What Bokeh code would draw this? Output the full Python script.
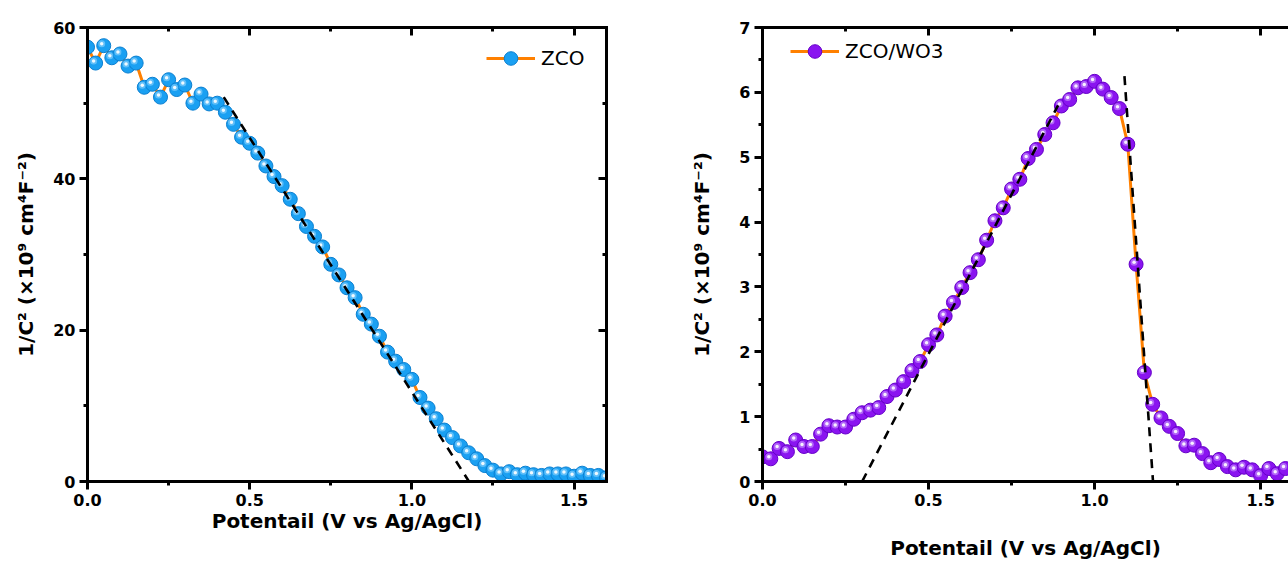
from bokeh.plotting import figure
from bokeh.layouts import row
from bokeh.models import (Range1d, LinearAxis, FixedTicker, PrintfTickFormatter,
                          Legend, LegendItem, CustomLabelingPolicy)
from bokeh.embed import file_html
from bokeh.resources import INLINE

# ---------------- data ----------------
zco_x = [round(i * 0.025, 3) for i in range(65)]
zco_y = [57.4, 55.3, 57.6, 56.0, 56.5, 54.9, 55.3, 52.1, 52.5, 50.8,
         53.1, 51.8, 52.4, 50.0, 51.2, 49.9, 50.0, 48.8, 47.2, 45.5,
         44.7, 43.4, 41.7, 40.3, 39.1, 37.3, 35.4, 33.7, 32.4, 31.0,
         28.7, 27.3, 25.6, 24.3, 22.1, 20.8, 19.2, 17.1, 15.9, 14.8,
         13.5, 11.1, 9.7, 8.3, 6.8, 5.8, 4.7, 3.8, 3.0, 2.1,
         1.5, 1.0, 1.3, 0.9, 1.1, 0.9, 0.8, 1.0, 1.0, 1.0,
         0.7, 1.1, 0.8, 0.8, 0.5]
zco_fit_x = [0.42, 1.176]
zco_fit_y = [50.8, 0.0]

wo3_x = [round(i * 0.025, 3) for i in range(64)]
wo3_y = [0.38, 0.35, 0.51, 0.46, 0.64, 0.54, 0.54, 0.73, 0.86, 0.84,
         0.84, 0.96, 1.06, 1.10, 1.14, 1.31, 1.41, 1.54, 1.71, 1.85,
         2.11, 2.26, 2.55, 2.76, 2.99, 3.22, 3.42, 3.72, 4.02, 4.22,
         4.51, 4.66, 4.98, 5.12, 5.35, 5.53, 5.79, 5.89, 6.07, 6.09,
         6.17, 6.05, 5.92, 5.75, 5.20, 3.35, 1.68, 1.19, 0.98, 0.85,
         0.74, 0.55, 0.56, 0.43, 0.29, 0.34, 0.23, 0.18, 0.22, 0.18,
         0.09, 0.20, 0.12, 0.20]
wo3_fit1_x = [0.30, 0.89]
wo3_fit1_y = [0.0, 5.8]
wo3_fit2_x = [1.09, 1.176]
wo3_fit2_y = [6.25, 0.0]

x_ticks = [0.0, 0.5, 1.0, 1.5]
x_minor = [0.25, 0.75, 1.25]
zco_yticks = [0, 20, 40, 60]
zco_yminor = [10, 30, 50]
wo3_yticks = [0, 1, 2, 3, 4, 5, 6, 7]
wo3_yminor = [0.5, 1.5, 2.5, 3.5, 4.5, 5.5, 6.5]

XLABEL = "Potentail (V vs Ag/AgCl)"
YLABEL = "1/C\u00b2 (\u00d710\u2079 cm\u2074F\u207b\u00b2)"

ORANGE = "#FF8000"
FONT = "DejaVu Sans"

NO_LABELS = CustomLabelingPolicy(
    code="for (const i of Array.from(indices)) indices.unset(i); return indices")


def style_axis(ax, ticks, minor, fmt=None, inward=False, labels=True):
    ax.ticker = FixedTicker(ticks=ticks, minor_ticks=minor)
    if fmt:
        ax.formatter = PrintfTickFormatter(format=fmt)
    ax.axis_line_width = 3
    ax.axis_line_color = "black"
    ax.axis_line_cap = "square"
    ax.major_tick_line_width = 3
    ax.minor_tick_line_width = 3
    if inward:
        ax.major_tick_in, ax.major_tick_out = 8, 0
        ax.minor_tick_in, ax.minor_tick_out = 4, 0
    else:
        ax.major_tick_in, ax.major_tick_out = 0, 8
        ax.minor_tick_in, ax.minor_tick_out = 0, 4
    ax.major_label_text_font = FONT
    ax.major_label_text_font_style = "bold"
    ax.major_label_text_font_size = "16px"
    ax.major_label_text_color = "black"
    ax.major_label_standoff = 4
    ax.axis_label_text_font = FONT
    ax.axis_label_text_font_style = "bold"
    ax.axis_label_text_font_size = "20px"
    ax.axis_label_text_color = "black"
    if not labels:
        ax.major_label_policy = NO_LABELS


def make_panel(width, xr, yr, yticks, yminor, borders, xs, ys, fill, edge, hl,
               fits, label, leg_loc, right_axis, xstd, ystd):
    bl, br, bt, bb = borders
    p = figure(width=width, height=562, x_range=Range1d(*xr), y_range=Range1d(*yr),
               output_backend="svg", toolbar_location=None,
               min_border_left=bl, min_border_right=br,
               min_border_top=bt, min_border_bottom=bb)
    p.outline_line_color = None
    p.grid.visible = False
    p.background_fill_color = "white"
    p.border_fill_color = "white"

    style_axis(p.xaxis[0], x_ticks, x_minor, "%.1f")
    p.xaxis[0].axis_label = XLABEL
    p.xaxis[0].axis_label_standoff = xstd
    style_axis(p.yaxis[0], yticks, yminor)
    p.yaxis[0].axis_label = YLABEL
    p.yaxis[0].axis_label_standoff = ystd

    top = LinearAxis()
    style_axis(top, x_ticks, x_minor, inward=True, labels=False)
    p.add_layout(top, "above")
    if right_axis:
        rax = LinearAxis()
        style_axis(rax, yticks, yminor, inward=True, labels=False)
        p.add_layout(rax, "right")

    fw = width - bl - br
    fh = 562 - bt - bb
    dx = 2.0 * (xr[1] - xr[0]) / fw
    dy = 2.0 * (yr[1] - yr[0]) / fh

    ln = p.line(xs, ys, line_color=ORANGE, line_width=3)
    sc = p.scatter(xs, ys, size=14, fill_color=fill, line_color=edge, line_width=1)
    hx = [v - dx for v in xs]
    hy = [v + dy for v in ys]
    p.scatter(hx, hy, size=7, fill_color=hl, fill_alpha=0.55, line_color=None)
    p.scatter(hx, hy, size=3.5, fill_color="white", fill_alpha=0.9, line_color=None)
    for fx, fy in fits:
        p.line(fx, fy, line_color="black", line_width=2.6, line_dash="9 7")

    leg = Legend(items=[LegendItem(label=label, renderers=[ln, sc])],
                 location=leg_loc, background_fill_alpha=0, border_line_color=None,
                 padding=0, margin=0, spacing=0, glyph_width=49, glyph_height=34,
                 label_text_font=FONT, label_text_font_size="20px",
                 label_text_color="black",
                 label_standoff=6, label_height=20)
    p.add_layout(leg)
    return p


p1 = make_panel(640, (0, 1.6), (0, 60), zco_yticks, zco_yminor, (87, 34, 27, 80),
                zco_x, zco_y, "#1AA0F2", "#0B7FD0", "#9AD8FF",
                [(zco_fit_x, zco_fit_y)], "ZCO", (399, 406), True, 0, 12)
p2 = make_panel(648, (0, 1.584), (0, 7), wo3_yticks, wo3_yminor, (122, 0, 15, 79),
                wo3_x, wo3_y, "#8A14F0", "#6500C8", "#D2A8FF",
                [(wo3_fit1_x, wo3_fit1_y), (wo3_fit2_x, wo3_fit2_y)], "ZCO/WO3",
                (28, 413), False, 27, 22)

layout = row(p1, p2, spacing=0)
open("out.html", "w").write(file_html(layout, INLINE))
